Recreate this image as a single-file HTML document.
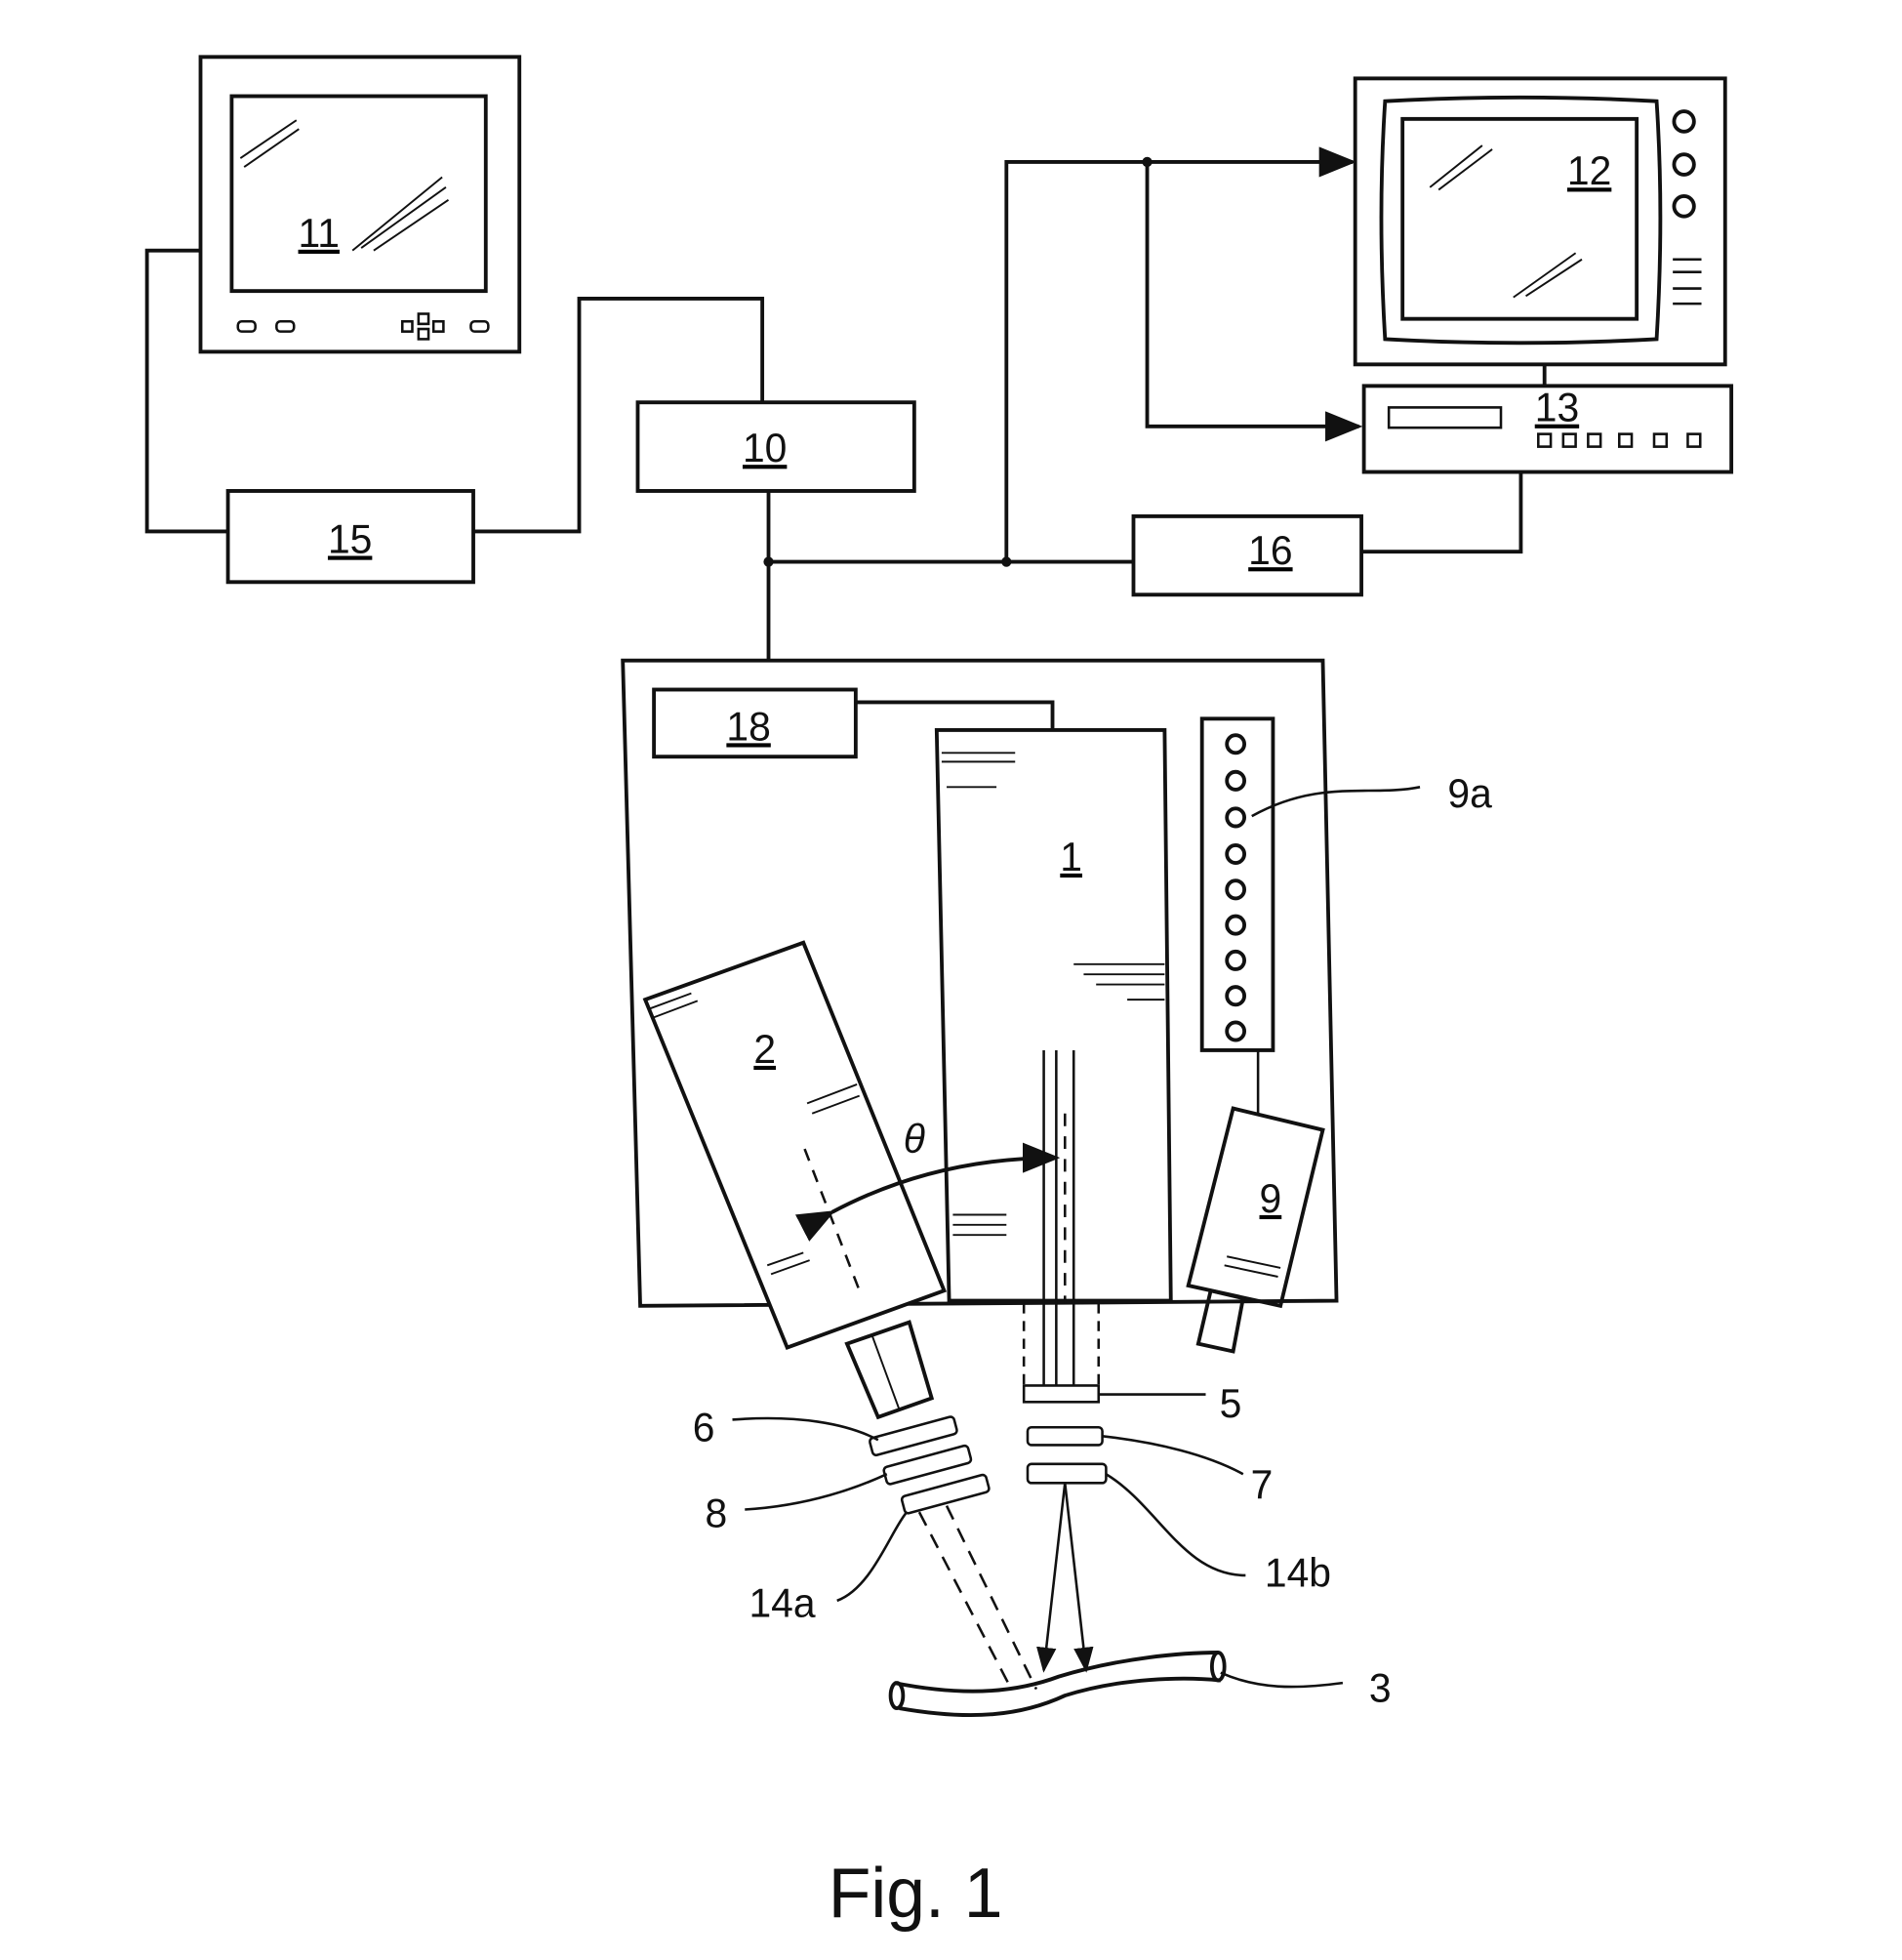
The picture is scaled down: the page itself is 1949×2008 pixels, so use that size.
<!DOCTYPE html>
<html><head><style>html,body{margin:0;padding:0;background:#fff}svg{display:block}text{font-family:"Liberation Sans",Arial,sans-serif;fill:#111}</style></head>
<body>
<svg width="1949" height="2008" viewBox="0 0 1527 1549" preserveAspectRatio="none" xmlns="http://www.w3.org/2000/svg">
<defs><marker id="ar" markerWidth="10" markerHeight="8" refX="9" refY="4" orient="auto"><path d="M0,0 L10,4 L0,8 Z" fill="#111"/></marker></defs>
<g stroke="#111" stroke-width="3" fill="none">
<!-- Monitor 11 -->
<rect x="161" y="45" width="256" height="233"/>
<rect x="186" y="76" width="204" height="154"/>
<line x1="193" y1="125" x2="238" y2="95" stroke-width="1.5"/><line x1="196" y1="132" x2="240" y2="102" stroke-width="1.5"/>
<line x1="283" y1="198" x2="355" y2="140" stroke-width="1.5"/><line x1="290" y1="196" x2="358" y2="148" stroke-width="1.5"/><line x1="300" y1="198" x2="360" y2="158" stroke-width="1.5"/>
<rect x="191" y="254" width="14" height="8" rx="3" stroke-width="2"/><rect x="222" y="254" width="14" height="8" rx="3" stroke-width="2"/>
<rect x="323" y="254" width="8" height="8" stroke-width="2"/><rect x="336" y="248" width="8" height="8" stroke-width="2"/><rect x="336" y="260" width="8" height="8" stroke-width="2"/><rect x="348" y="254" width="8" height="8" stroke-width="2"/><rect x="378" y="254" width="14" height="8" rx="3" stroke-width="2"/>
<!-- wires -->
<polyline points="161,198 118,198 118,420 183,420"/>
<polyline points="380,420 465,420 465,236 612,236 612,318"/>
<rect x="183" y="388" width="197" height="72"/>
<rect x="512" y="318" width="222" height="70"/>
<line x1="617" y1="388" x2="617" y2="522"/>
<line x1="617" y1="444" x2="910" y2="444"/>
<polyline points="808,444 808,128 1086,128" marker-end="url(#ar)"/>
<polyline points="921,128 921,337 1091,337" marker-end="url(#ar)"/>
<rect x="910" y="408" width="183" height="62"/>
<polyline points="1093,436 1221,436 1221,373"/>
<!-- Monitor 12 -->
<rect x="1088" y="62" width="297" height="226"/>
<path d="M1112,80 Q1220,74 1330,80 Q1336,170 1330,268 Q1220,274 1112,268 Q1106,170 1112,80 Z"/>
<rect x="1126" y="94" width="188" height="158"/>
<line x1="1148" y1="148" x2="1190" y2="115" stroke-width="1.5"/><line x1="1155" y1="150" x2="1198" y2="118" stroke-width="1.5"/>
<line x1="1215" y1="235" x2="1265" y2="200" stroke-width="1.5"/><line x1="1225" y1="234" x2="1270" y2="205" stroke-width="1.5"/>
<circle cx="1352" cy="96" r="8"/><circle cx="1352" cy="130" r="8"/><circle cx="1352" cy="163" r="8"/>
<line x1="1343" y1="205" x2="1366" y2="205" stroke-width="2"/><line x1="1343" y1="215" x2="1366" y2="215" stroke-width="2"/><line x1="1343" y1="228" x2="1366" y2="228" stroke-width="2"/><line x1="1343" y1="240" x2="1366" y2="240" stroke-width="2"/>
<line x1="1240" y1="288" x2="1240" y2="305"/>
<rect x="1095" y="305" width="295" height="68"/>
<rect x="1115" y="322" width="90" height="16" stroke-width="2"/>
<rect x="1235" y="343" width="10" height="10" stroke-width="2"/><rect x="1255" y="343" width="10" height="10" stroke-width="2"/><rect x="1275" y="343" width="10" height="10" stroke-width="2"/><rect x="1300" y="343" width="10" height="10" stroke-width="2"/><rect x="1328" y="343" width="10" height="10" stroke-width="2"/><rect x="1355" y="343" width="10" height="10" stroke-width="2"/>
<!-- main box -->
<polygon points="500,522 1062,522 1073,1028 514,1032"/>
<rect x="525" y="545" width="162" height="53"/>
<polyline points="687,555 845,555 845,577"/>
<polygon points="752,577 935,577 940,1028 762,1028"/>
<line x1="756" y1="595" x2="815" y2="595" stroke-width="1.5"/><line x1="756" y1="602" x2="815" y2="602" stroke-width="1.5"/><line x1="760" y1="622" x2="800" y2="622" stroke-width="1.5"/>
<line x1="862" y1="762" x2="935" y2="762" stroke-width="1.5"/><line x1="870" y1="770" x2="935" y2="770" stroke-width="1.5"/><line x1="880" y1="778" x2="935" y2="778" stroke-width="1.5"/><line x1="905" y1="790" x2="935" y2="790" stroke-width="1.5"/>
<line x1="765" y1="960" x2="808" y2="960" stroke-width="1.5"/><line x1="765" y1="968" x2="808" y2="968" stroke-width="1.5"/><line x1="765" y1="976" x2="808" y2="976" stroke-width="1.5"/>
<rect x="965" y="568" width="57" height="262"/>
<circle cx="992" cy="588" r="7"/><circle cx="992" cy="617" r="7"/><circle cx="992" cy="646" r="7"/><circle cx="992" cy="675" r="7"/><circle cx="992" cy="703" r="7"/><circle cx="992" cy="731" r="7"/><circle cx="992" cy="759" r="7"/><circle cx="992" cy="787" r="7"/><circle cx="992" cy="815" r="7"/>
<path d="M1005,645 C1060,615 1100,630 1140,622" stroke-width="2"/>
<line x1="1010" y1="830" x2="1010" y2="880" stroke-width="2"/>
<!-- camera 9 -->
<polygon points="990,876 1062,893 1028,1032 954,1016"/>
<polygon points="972,1020 998,1026 990,1068 962,1062"/>
<line x1="985" y1="993" x2="1028" y2="1002" stroke-width="1.5"/><line x1="983" y1="1000" x2="1026" y2="1009" stroke-width="1.5"/>
<!-- camera 2 -->
<polygon points="518,790 645,745 758,1020 632,1065" fill="#fff"/>
<line x1="522" y1="797" x2="555" y2="785" stroke-width="1.5"/><line x1="525" y1="804" x2="560" y2="791" stroke-width="1.5"/>
<line x1="648" y1="872" x2="688" y2="857" stroke-width="1.5"/><line x1="652" y1="880" x2="690" y2="866" stroke-width="1.5"/>
<line x1="616" y1="1000" x2="645" y2="990" stroke-width="1.5"/><line x1="619" y1="1007" x2="650" y2="996" stroke-width="1.5"/>
<line x1="646" y1="908" x2="690" y2="1020" stroke-width="2" stroke-dasharray="10,8"/>
<polygon points="680,1062 730,1045 748,1105 705,1120"/>
<line x1="700" y1="1055" x2="722" y2="1114" stroke-width="1.5"/>
<!-- theta arrow -->
<path d="M668,958 Q750,915 848,915" marker-start="url(#ar)" marker-end="url(#ar)"/>
<!-- beams -->
<line x1="838" y1="830" x2="838" y2="1095" stroke-width="2"/><line x1="848" y1="830" x2="848" y2="1095" stroke-width="2"/><line x1="862" y1="830" x2="862" y2="1095" stroke-width="2"/>
<line x1="822" y1="1030" x2="822" y2="1095" stroke-width="2" stroke-dasharray="8,6"/><line x1="882" y1="1030" x2="882" y2="1095" stroke-width="2" stroke-dasharray="8,6"/>
<line x1="855" y1="880" x2="855" y2="1030" stroke-width="2" stroke-dasharray="10,8"/>
<rect x="822" y="1095" width="60" height="13" stroke-width="2"/>
<rect x="825" y="1128" width="60" height="14" rx="3" stroke-width="2"/>
<rect x="825" y="1157" width="63" height="15" rx="3" stroke-width="2"/>
<line x1="855" y1="1172" x2="838" y2="1320" stroke-width="2" marker-end="url(#ar)"/>
<line x1="855" y1="1172" x2="872" y2="1320" stroke-width="2" marker-end="url(#ar)"/>
<g transform="rotate(-15 740 1160)" stroke-width="2">
<rect x="705" y="1127" width="70" height="14" rx="3"/><rect x="710" y="1152" width="70" height="14" rx="3"/><rect x="718" y="1178" width="70" height="14" rx="3"/>
</g>
<line x1="738" y1="1195" x2="812" y2="1335" stroke-width="2" stroke-dasharray="12,8"/>
<line x1="760" y1="1190" x2="832" y2="1335" stroke-width="2" stroke-dasharray="12,8"/>
<!-- leaders -->
<path d="M882,1102 L968,1102" stroke-width="2"/>
<path d="M885,1135 C930,1140 970,1150 998,1165" stroke-width="2"/>
<path d="M888,1165 C930,1190 950,1245 1000,1245" stroke-width="2"/>
<path d="M588,1122 C640,1118 680,1125 705,1138" stroke-width="2"/>
<path d="M598,1193 C650,1190 690,1175 712,1165" stroke-width="2"/>
<path d="M672,1265 C700,1255 715,1210 728,1195" stroke-width="2"/>
<path d="M980,1322 C1010,1335 1040,1335 1078,1330" stroke-width="2"/>
<!-- sample 3 -->
<path d="M718,1330 C780,1342 820,1336 850,1325 C900,1310 950,1306 978,1306" />
<path d="M722,1350 C780,1360 820,1356 855,1340 C900,1326 950,1325 980,1328" />
<ellipse cx="720" cy="1340" rx="5" ry="10"/><ellipse cx="978" cy="1317" rx="5" ry="11"/>
</g>
<circle cx="617" cy="444" r="4" fill="#111"/><circle cx="808" cy="444" r="4" fill="#111"/><circle cx="921" cy="128" r="4" fill="#111"/>
<g font-size="32" text-decoration="underline" text-anchor="middle">
<text x="256" y="195">11</text><text x="281" y="437">15</text><text x="614" y="365">10</text>
<text x="1276" y="146">12</text><text x="1250" y="333" text-decoration="none">13</text><text x="1020" y="446">16</text>
<text x="601" y="585">18</text><text x="860" y="688">1</text><text x="614" y="840">2</text><text x="1020" y="958">9</text>
</g>
<g font-size="32" text-anchor="middle">
<text x="1180" y="638">9a</text><text x="988" y="1120">5</text><text x="1013" y="1184">7</text><text x="1042" y="1254">14b</text>
<text x="565" y="1139">6</text><text x="575" y="1207">8</text><text x="628" y="1278">14a</text><text x="1108" y="1345">3</text>
<text x="734" y="911" font-style="italic">θ</text>
<text x="735" y="1515" font-size="56">Fig. 1</text>
</g>
</svg>
</body></html>
